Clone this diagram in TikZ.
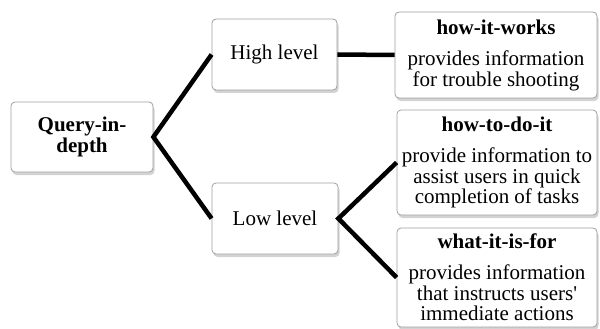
\documentclass[tikz,border=0pt]{standalone}
\usepackage{fontspec}
\setmainfont{Liberation Serif}
\newfontfamily\straightserif{Liberation Serif}[Ligatures=TeXOff]
\usetikzlibrary{shadows}
\begin{document}
\begin{tikzpicture}[x=1pt,y=-1pt,
  box/.style={draw=gray!75, line width=0.8pt, fill=white, rounded corners=4pt,
    align=center, inner sep=0pt,
    font=\fontsize{21pt}{20.5pt}\selectfont,
    drop shadow={opacity=0.35, shadow xshift=1.5pt, shadow yshift=-3pt}},
  link/.style={line width=4.5pt, black}]
\useasboundingbox (0,0) rectangle (600,329);
\node[box, minimum width=142pt, minimum height=70pt] (q) at (82,137)
  {\bfseries\fontsize{21pt}{22pt}\selectfont Query-in-\\\bfseries\fontsize{21pt}{22pt}\selectfont depth};
\node[box, minimum width=125pt, minimum height=71pt] (hi) at (274.5,54.5)
  {\fontsize{21pt}{22pt}\selectfont High level};
\node[box, minimum width=126pt, minimum height=71pt] (lo) at (275,218.5)
  {\fontsize{21pt}{22pt}\selectfont Low level};
\node[box, minimum width=202pt, minimum height=86pt] (hw) at (496,55)
  {\textbf{how-it-works}\\[11pt] provides information\\ for trouble shooting};
\node[box, minimum width=200pt, minimum height=105pt] (hd) at (497,162.5)
  {\textbf{how-to-do-it}\\[10.5pt] provide information to\\ assist users in quick\\ completion of tasks};
\node[box, minimum width=200pt, minimum height=99pt] (wf) at (497,277.5)
  {\textbf{what-it-is-for}\\[10.5pt] provides information\\ that instructs users{\straightserif\fontsize{21pt}{20.5pt}\selectfont '}\\ immediate actions};
\draw[link] (hi.west) -- (q.east) -- (lo.west);
\draw[link] (hi.east) -- (hw.west);
\draw[link] (hd.west) -- (lo.east) -- (wf.west);
\end{tikzpicture}
\end{document}
